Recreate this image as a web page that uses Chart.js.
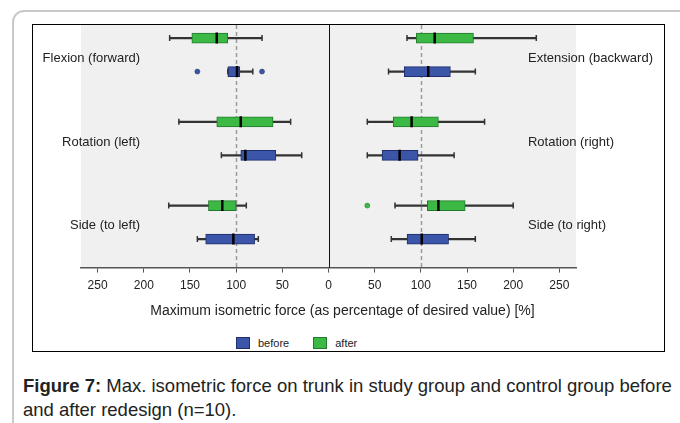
<!DOCTYPE html>
<html lang="en">
<head>
<meta charset="UTF-8">
<title>Max. isometric force on trunk</title>
<script src="https://cdn.jsdelivr.net/npm/chart.js"></script>
<style>
  body { margin: 0; width: 680px; height: 423px; background: #fff; position: relative; overflow: hidden;
         font-family: "Liberation Sans", Arial, sans-serif; color: #222; }
  .card { position: absolute; left: 12px; top: 10px; width: 720px; height: 460px;
          border: 2px solid #c9c9c9; border-radius: 12px 0 0 0; }
  .figure { position: absolute; left: 32px; top: 24px; width: 631px; height: 326px; border: 1px solid #000; background: #fff; }
  .figure canvas { position: absolute; left: 0; top: 0; }
  .legend { position: absolute; left: 203px; top: 312px; font-size: 11px; display: flex; align-items: center; }
  .legend span.box { display: inline-block; width: 14px; height: 12px; margin-right: 8px; box-sizing: border-box; }
  .legend span.txt { margin-right: 24px; }
  .caption { position: absolute; left: 23px; top: 374px; font-size: 18.5px; line-height: 24px; color: #222; white-space: nowrap; }
</style>
</head>
<body>
<div class="card"></div>
<div class="figure">
  <canvas id="chart" width="631" height="300"></canvas>
  <div class="legend">
    <span class="box" style="background:#3b55a8;border:1px solid #1f2f6e"></span><span class="txt">before</span>
    <span class="box" style="background:#3cb944;border:1px solid #227a2c"></span><span class="txt">after</span>
  </div>
</div>
<div class="caption"><b>Figure 7:</b> Max. isometric force on trunk in study group and control group before<br>and after redesign (n=10).</div>

<script>
// movements, left half of the plot and right half
const leftLabels = ['Flexion (forward)', 'Rotation (left)', 'Side (to left)'];
const rightLabels = ['Extension (backward)', 'Rotation (right)', 'Side (to right)'];

// five-number summaries [min, q1, median, q3, max] in % of desired value
const beforeLeft = [[82, 96, 99, 109, 109], [29, 57, 90, 95, 116], [76, 80, 103, 133, 142]];
const afterLeft = [[72, 109, 121, 148, 172], [41, 60, 95, 121, 162], [89, 100, 115, 130, 173]];
const beforeRight = [[65, 82, 108, 132, 159], [42, 58, 77, 97, 136], [68, 85, 101, 130, 159]];
const afterRight = [[85, 95, 115, 157, 225], [42, 70, 90, 119, 169], [72, 107, 119, 148, 200]];

// outliers per movement
const beforeOutliersLeft = [[72, 142], [], []];
const afterOutliersRight = [[], [], [42]];

const tickValues = [-250, -200, -150, -100, -50, 0, 50, 100, 150, 200, 250];
const refLines = [-100, 100];

const blue = '#3b55a8', blueEdge = '#1f2f6e';
const green = '#3cb944', greenEdge = '#227a2c';

// row position: 'after' above 'before' for each movement
function rowPos(g, isBefore) { return g * 2.5 + (isBefore ? 1 : 0); }

// combine left (mirrored to negative) and right side into one list of rows
function rows(left, right, isBefore) {
  const out = [];
  left.forEach((s, g) => out.push({ s: s.map(v => -v), y: rowPos(g, isBefore) }));
  right.forEach((s, g) => out.push({ s: s, y: rowPos(g, isBefore) }));
  return out;
}
const beforeRows = rows(beforeLeft, beforeRight, true);
const afterRows = rows(afterLeft, afterRight, false);

function outlierPoints(left, right, isBefore) {
  const pts = [];
  left.forEach((list, g) => list.forEach(v => pts.push({ x: -v, y: rowPos(g, isBefore) })));
  right.forEach((list, g) => list.forEach(v => pts.push({ x: v, y: rowPos(g, isBefore) })));
  return pts;
}

function boxDatasets(data, fill, edge, outliers) {
  return [
    { type: 'scatter', indexAxis: 'x', order: 0, data: data.map(r => ({ x: r.s[2], y: r.y })),
      pointStyle: 'line', rotation: 90, radius: 5.5, borderWidth: 2.5, borderColor: '#000' },
    { type: 'scatter', indexAxis: 'x', order: 1,
      data: data.flatMap(r => [{ x: r.s[0], y: r.y }, { x: r.s[4], y: r.y }]),
      pointStyle: 'line', rotation: 90, radius: 3, borderWidth: 1.5, borderColor: '#333' },
    { type: 'scatter', indexAxis: 'x', order: 0, data: outliers,
      pointStyle: 'circle', radius: 2.5, backgroundColor: fill, borderColor: edge, borderWidth: 0.5 },
    { type: 'bar', indexAxis: 'y', order: 2, grouped: false, barThickness: 10,
      data: data.map(r => ({ x: [r.s[1], r.s[3]], y: r.y })),
      backgroundColor: fill, borderColor: edge, borderWidth: 1, borderSkipped: false },
    { type: 'bar', indexAxis: 'y', order: 3, grouped: false, barThickness: 1.5,
      data: data.map(r => ({ x: [r.s[0], r.s[4]], y: r.y })),
      backgroundColor: '#333' }
  ];
}

const decor = {
  id: 'decor',
  beforeDraw(chart) {
    const { ctx, chartArea: a } = chart;
    ctx.save();
    ctx.fillStyle = '#f0f0f0';
    ctx.fillRect(a.left, a.top, a.right - a.left, a.bottom - a.top);
    ctx.restore();
  },
  beforeDatasetsDraw(chart) {
    const { ctx, chartArea: a, scales: { x } } = chart;
    ctx.save();
    ctx.strokeStyle = '#9a9a9a';
    ctx.lineWidth = 1.5;
    ctx.setLineDash([4, 3]);
    refLines.forEach(v => {
      const px = Math.round(x.getPixelForValue(v)) + 0.5;
      ctx.beginPath(); ctx.moveTo(px, a.top); ctx.lineTo(px, a.bottom); ctx.stroke();
    });
    ctx.setLineDash([]);
    ctx.strokeStyle = '#111';
    ctx.lineWidth = 1;
    const z = Math.round(x.getPixelForValue(0)) + 0.5;
    ctx.beginPath(); ctx.moveTo(z, a.top); ctx.lineTo(z, a.bottom); ctx.stroke();
    ctx.restore();
  },
  afterDraw(chart) {
    const { ctx, chartArea: a, scales: { x, y } } = chart;
    ctx.save();
    ctx.fillStyle = '#222';
    ctx.font = '13px "Liberation Sans", Arial, sans-serif';
    ctx.textBaseline = 'middle';
    ctx.textAlign = 'right';
    leftLabels.forEach((t, g) => ctx.fillText(t, x.getPixelForValue(-204), y.getPixelForValue(rowPos(g, false) + 0.6)));
    ctx.textAlign = 'left';
    rightLabels.forEach((t, g) => ctx.fillText(t, x.getPixelForValue(216), y.getPixelForValue(rowPos(g, false) + 0.6)));
    // axis title
    ctx.font = '14px "Liberation Sans", Arial, sans-serif';
    ctx.textAlign = 'center';
    ctx.fillText('Maximum isometric force (as percentage of desired value) [%]', (a.left + a.right) / 2 + 14, a.bottom + 44);
    ctx.restore();
  }
};

new Chart(document.getElementById('chart'), {
  type: 'bar',
  data: {
    datasets: [
      ...boxDatasets(afterRows, green, greenEdge, outlierPoints([[], [], []], afterOutliersRight, false)),
      ...boxDatasets(beforeRows, blue, blueEdge, outlierPoints(beforeOutliersLeft, [[], [], []], true))
    ]
  },
  options: {
    indexAxis: 'y',
    responsive: false,
    animation: false,
    layout: { autoPadding: false, padding: { left: 48, right: 88, top: 0, bottom: 26 } },
    plugins: { legend: { display: false }, tooltip: { enabled: false } },
    scales: {
      x: {
        type: 'linear', position: 'bottom', min: -268, max: 268,
        afterBuildTicks: axis => { axis.ticks = tickValues.map(v => ({ value: v })); },
        ticks: { callback: v => Math.abs(v), color: '#222', font: { size: 12, family: '"Liberation Sans", Arial, sans-serif' }, padding: 6, maxRotation: 0 },
        grid: { drawOnChartArea: false, drawTicks: true, tickLength: 5, tickColor: '#555', tickWidth: 1 },
        border: { display: true, color: '#555', width: 1.5 }
      },
      y: { type: 'linear', min: -0.39, max: 6.85, reverse: true, offset: false, display: false }
    }
  },
  plugins: [decor]
});
</script>
</body>
</html>
